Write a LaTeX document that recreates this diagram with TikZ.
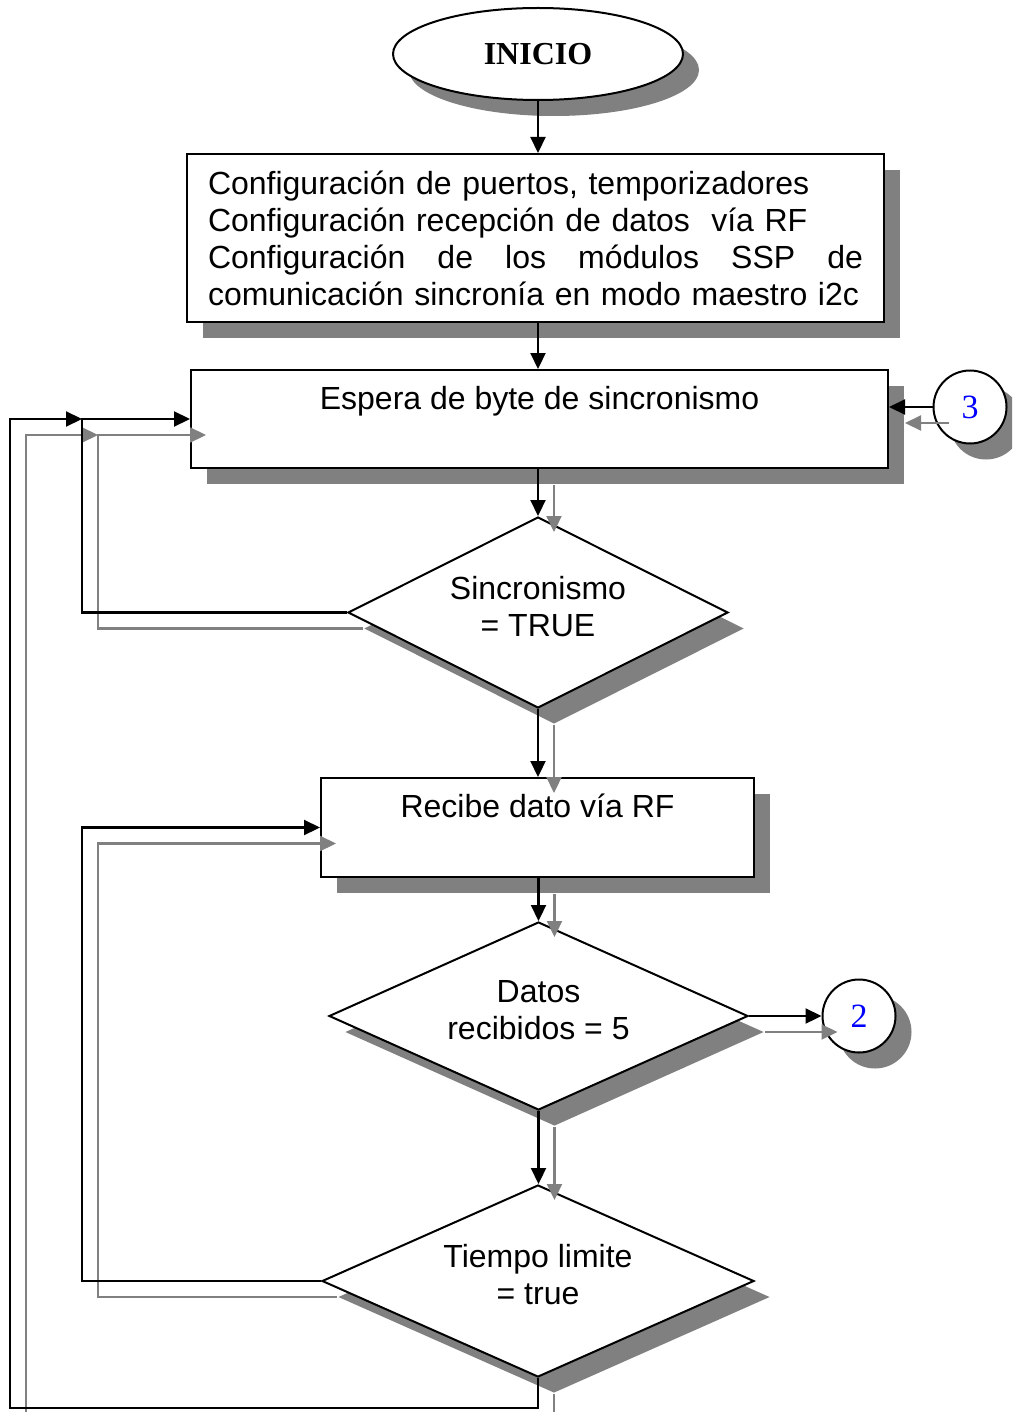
\documentclass[tikz,border=0pt]{standalone}
\usepackage{fontspec}
\setmainfont{Liberation Sans}
\newfontfamily\timesf{Liberation Serif}
\usetikzlibrary{shapes.geometric,shadows,arrows.meta}
\definecolor{shgray}{RGB}{128,128,128}
\begin{document}
\begin{tikzpicture}[x=1pt,y=-1pt,
  font=\fontsize{32pt}{37pt}\selectfont,
  shd/.style={drop shadow={shadow xshift=16pt,shadow yshift=-16pt,opacity=1,fill=shgray}},
  fig/.style={draw=black,line width=2pt,fill=white,shd},
  boxn/.style={fig,rectangle,inner sep=0pt},
  dia/.style={fig,diamond,inner sep=0pt,aspect=2},
  dtext/.style={label={[align=center,yshift=6pt]center:#1}},
  conn/.style={draw=black,line width=2.2pt,-{Triangle[length=16pt,width=15pt]}},
  gconn/.style={draw=shgray,line width=2.2pt,-{Triangle[length=16pt,width=15pt]}},
  sft/.style={shift={(16,16)}},
  numc/.style={fig,circle,minimum size=73pt,inner sep=0pt,text=blue,font=\timesf\fontsize{34pt}{38pt}\selectfont}
]
\path[use as bounding box] (0,0) rectangle (1012,1412);
\clip (0,0) rectangle (1012,1412);

\node[fig,ellipse,minimum width=290pt,minimum height=92pt,inner sep=0pt,
      font=\timesf\bfseries\fontsize{32pt}{36pt}\selectfont] (start) at (538,54) {INICIO};

\node[boxn,minimum width=697pt,minimum height=168pt,text width=655pt,align=left] (config) at (535.5,238)
  {Configuración de puertos, temporizadores\\
   Configuración recepción de datos\ \ vía RF\\
   \makebox[655pt]{Configuración\hfill de\hfill los\hfill módulos\hfill SSP\hfill de}\\
   comunicación sincronía en modo maestro i2c};

\node[boxn,minimum width=697pt,minimum height=98pt,
      label={[anchor=center,yshift=-32pt]north:Espera de byte de sincronismo}] (espera) at (539.5,419) {};

\node[dia,minimum width=380pt,minimum height=191pt,dtext={Sincronismo\\= TRUE}] (sinc) at (538,612.5) {};

\node[boxn,minimum width=433pt,minimum height=99pt,
      label={[anchor=center,yshift=-29pt]north:Recibe dato vía RF}] (recibe) at (537.5,827.5) {};

\node[dia,minimum width=419pt,minimum height=188pt,dtext={Datos\\recibidos = 5}] (datos) at (538.5,1016) {};

\node[dia,minimum width=432pt,minimum height=192pt,dtext={Tiempo limite\\= true}] (tiempo) at (538,1281) {};

\node[numc] (c3) at (970,407) {3};
\node[numc] (c2) at (859,1016) {2};

\coordinate (lx) at (82,0);
\coordinate (ox) at (10,1408);

% straight connectors
\draw[conn] (start.south) -- (start.south |- config.north);
\draw[conn] (start.south |- config.south) -- (start.south |- espera.north);

\draw[gconn] ([sft]sinc.north |- espera.south) -- ([sft]sinc.north);
\draw[conn] (sinc.north |- espera.south) -- (sinc.north);
\draw[gconn] ([sft]sinc.south) -- ([sft]sinc.south |- recibe.north);
\draw[conn] (sinc.south) -- (sinc.south |- recibe.north);
\draw[gconn] ([sft]datos.north |- recibe.south) -- ([sft]datos.north);
\draw[conn] (datos.north |- recibe.south) -- (datos.north);
\draw[gconn] ([sft]datos.south) -- ([sft]datos.south |- tiempo.north);
\draw[conn] (datos.south) -- (datos.south |- tiempo.north);

% connectors to / from circles
\draw[gconn] ([sft]c3.west) -- ([sft]c3.west -| espera.east);
\draw[conn] (c3.west) -- (c3.west -| espera.east);
\draw[gconn] ([sft]datos.east) -- ([sft]c2.west);
\draw[conn] (datos.east) -- (c2.west);

% loops
\draw[gconn] ([sft]sinc.west) -| ([sft]lx |- espera.west) -- ([sft]espera.west);
\draw[gconn] ([sft]tiempo.south) |- ([sft]ox) |- ([sft]lx |- espera.west);
\draw[gconn] ([sft]tiempo.west) -| ([sft]lx |- recibe.west) -- ([sft]recibe.west);

\draw[conn] (sinc.west) -| (lx |- espera.west) -- (espera.west);
\draw[conn] (tiempo.south) |- (ox) |- (lx |- espera.west);
\draw[conn] (tiempo.west) -| (lx |- recibe.west) -- (recibe.west);
\end{tikzpicture}
\end{document}
